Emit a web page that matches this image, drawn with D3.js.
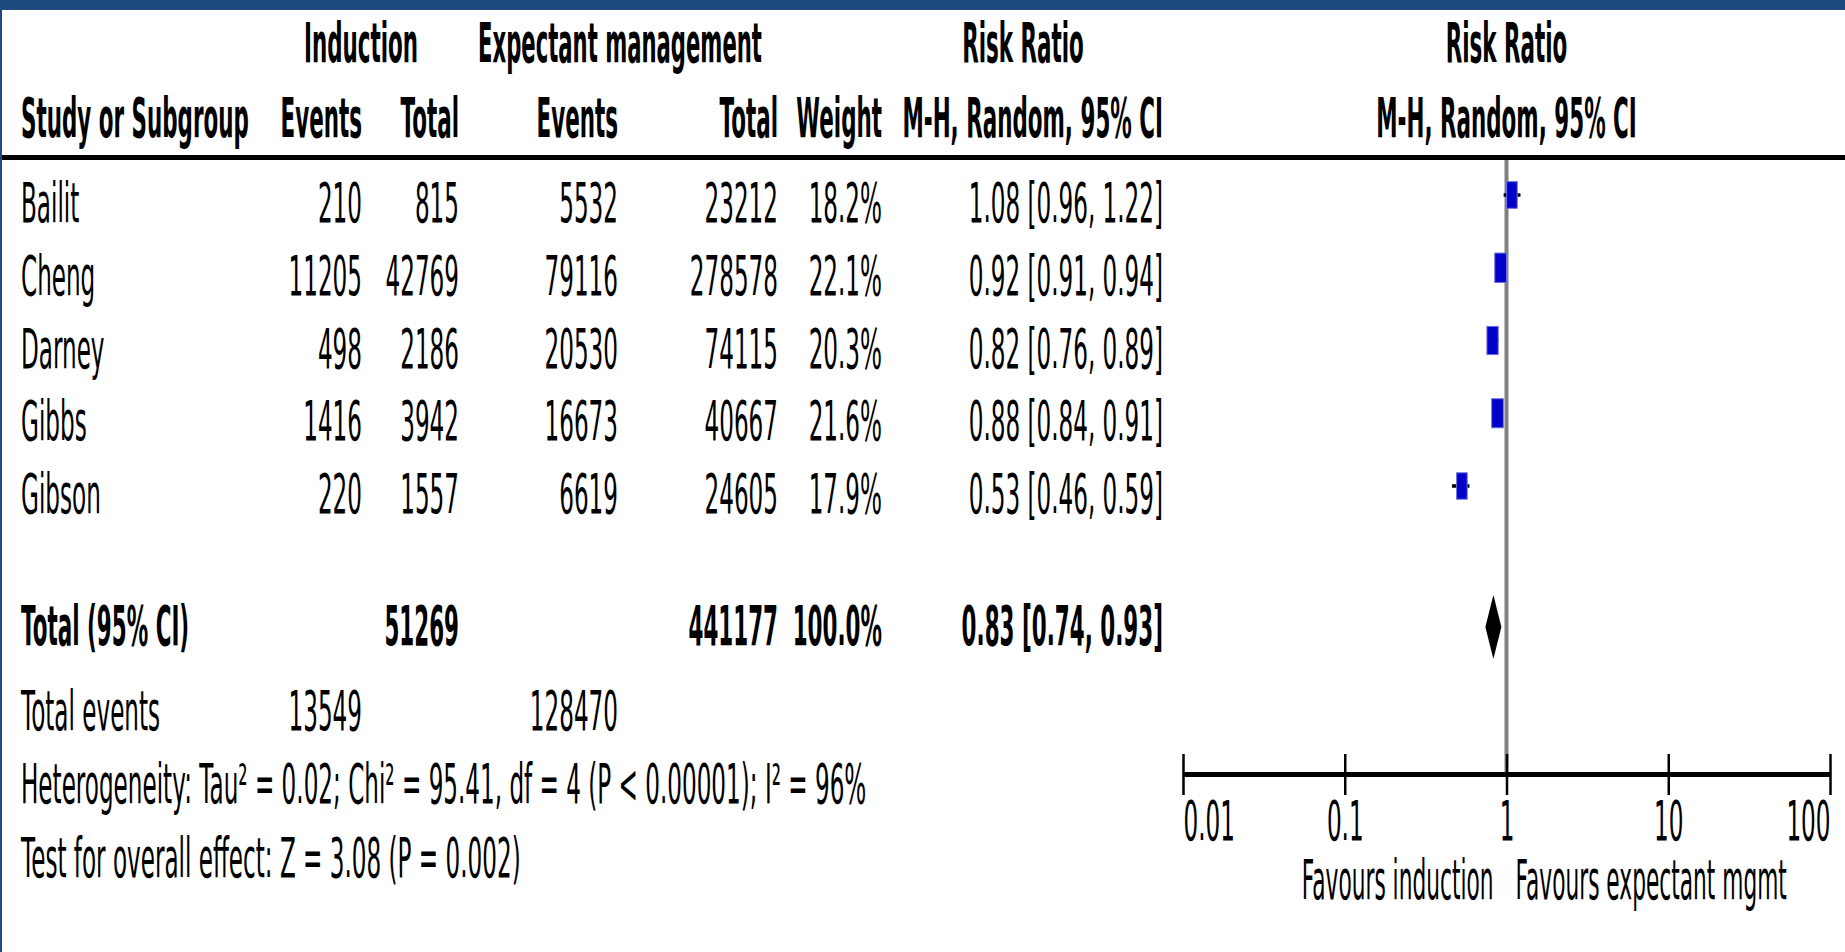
<!DOCTYPE html>
<html>
<head>
<meta charset="utf-8">
<script src="https://cdn.jsdelivr.net/npm/d3@7/dist/d3.min.js"></script>
<style>
  html, body { margin: 0; padding: 0; background: #fff; }
  svg { display: block; }
  .t { font-family: "DejaVu Sans", Verdana, sans-serif; font-size: 55px; fill: #000; }
  .b { font-weight: bold; }
</style>
</head>
<body>
<div id="chart"></div>
<script>
const studies = ["Bailit", "Cheng", "Darney", "Gibbs", "Gibson"];
const indEvents = [210, 11205, 498, 1416, 220];
const indTotal = [815, 42769, 2186, 3942, 1557];
const expEvents = [5532, 79116, 20530, 16673, 6619];
const expTotal = [23212, 278578, 74115, 40667, 24605];
const weights = [18.2, 22.1, 20.3, 21.6, 17.9];
const rr = [1.08, 0.92, 0.82, 0.88, 0.53];
const rrLo = [0.96, 0.91, 0.76, 0.84, 0.46];
const rrHi = [1.22, 0.94, 0.89, 0.91, 0.59];

const pooled = { rr: 0.83, lo: 0.74, hi: 0.93, weight: "100.0%" };
const tickValues = [0.01, 0.1, 1, 10, 100];
const tickLabels = ["0.01", "0.1", "1", "10", "100"];
const favoursLeft = "Favours induction";
const favoursRight = "Favours expectant mgmt";
const heterogeneity = "Heterogeneity: Tau\u00B2 = 0.02; Chi\u00B2 = 95.41, df = 4 (P < 0.00001); I\u00B2 = 96%";
const overallEffect = "Test for overall effect: Z = 3.08 (P = 0.002)";

const W = 1845, H = 952;
// horizontal squeeze of the text (the source is very condensed)
const SX = 0.42;
const SX_BOLD = 0.39;

const svg = d3.select("#chart").append("svg")
  .attr("width", W)
  .attr("height", H);

// frame
svg.append("rect").attr("x", 0).attr("y", 0).attr("width", W).attr("height", 10).attr("fill", "#1f4a7e");
svg.append("rect").attr("x", 0).attr("y", 0).attr("width", 2).attr("height", H).attr("fill", "#1f4a7e");

function txt(x, y, s, anchor, bold, sx) {
  const k = sx || (bold ? SX_BOLD : SX);
  return svg.append("text")
    .attr("class", "t" + (bold ? " b" : ""))
    .attr("transform", "translate(" + x + "," + y + ") scale(" + k + ",1)")
    .attr("text-anchor", anchor || "start")
    .text(s);
}

// column right edges
const col = { name: 21, indE: 362, indT: 459, expE: 618, expT: 778, wt: 882, ci: 1163 };

const x = d3.scaleLog().domain([0.01, 100]).range([1183, 1830]);
const rowY = d3.scaleLinear().domain([0, studies.length - 1]).range([222, 513]);
const boxW = d3.scaleSqrt().domain([0, 100]).range([0, 25]);

const fmtCI = (m, l, h) => m.toFixed(2) + " [" + l.toFixed(2) + ", " + h.toFixed(2) + "]";

// headers
txt(361, 62, "Induction", "middle", true);
txt(620, 62, "Expectant management", "middle", true, 0.385);
txt(1023, 62, "Risk Ratio", "middle", true);
txt(x(1), 62, "Risk Ratio", "middle", true);

txt(col.name, 137, "Study or Subgroup", "start", true);
txt(col.indE, 137, "Events", "end", true);
txt(col.indT, 137, "Total", "end", true);
txt(col.expE, 137, "Events", "end", true);
txt(col.expT, 137, "Total", "end", true);
txt(col.wt, 137, "Weight", "end", true);
txt(col.ci, 137, "M-H, Random, 95% CI", "end", true);
txt(x(1), 137, "M-H, Random, 95% CI", "middle", true);

svg.append("line")
  .attr("x1", 2).attr("x2", W)
  .attr("y1", 157.5).attr("y2", 157.5)
  .attr("stroke", "#000").attr("stroke-width", 5);

// study rows
studies.forEach((s, i) => {
  const y = rowY(i);
  txt(col.name, y, s, "start", false);
  txt(col.indE, y, indEvents[i], "end", false);
  txt(col.indT, y, indTotal[i], "end", false);
  txt(col.expE, y, expEvents[i], "end", false);
  txt(col.expT, y, expTotal[i], "end", false);
  txt(col.wt, y, weights[i].toFixed(1) + "%", "end", false);
  txt(col.ci, y, fmtCI(rr[i], rrLo[i], rrHi[i]), "end", false);
});

// total rows
const totalY = 645;
txt(col.name, totalY, "Total (95% CI)", "start", true);
txt(col.indT, totalY, d3.sum(indTotal), "end", true);
txt(col.expT, totalY, d3.sum(expTotal), "end", true);
txt(col.wt, totalY, pooled.weight, "end", true);
txt(col.ci, totalY, fmtCI(pooled.rr, pooled.lo, pooled.hi), "end", true);

txt(col.name, 730, "Total events", "start", false);
txt(col.indE, 730, d3.sum(indEvents), "end", false);
txt(col.expE, 730, d3.sum(expEvents), "end", false);

txt(col.name, 803, heterogeneity, "start", false);
txt(col.name, 877, overallEffect, "start", false);

// plot
const axisY = 774;

svg.append("line")
  .attr("x1", x(1)).attr("x2", x(1))
  .attr("y1", 160).attr("y2", axisY)
  .attr("stroke", "#808080").attr("stroke-width", 4);

const marks = svg.append("g");
studies.forEach((s, i) => {
  const cy = rowY(i) - 27;
  marks.append("line")
    .attr("x1", x(rrLo[i])).attr("x2", x(rrHi[i]))
    .attr("y1", cy).attr("y2", cy)
    .attr("stroke", "#000").attr("stroke-width", 3.5);
  const w = boxW(weights[i]);
  const h = w * 2.5;
  marks.append("rect")
    .attr("x", x(rr[i]) - w / 2).attr("y", cy - h / 2)
    .attr("width", w).attr("height", h)
    .attr("fill", "#0000c8")
    .attr("stroke", "#7070e0").attr("stroke-width", 1);
});

const dy = 627;
marks.append("path")
  .attr("d", "M" + x(pooled.lo) + "," + dy +
             "L" + x(pooled.rr) + "," + (dy - 32) +
             "L" + x(pooled.hi) + "," + dy +
             "L" + x(pooled.rr) + "," + (dy + 32) + "Z")
  .attr("fill", "#000");

const axis = svg.append("g")
  .attr("transform", "translate(0," + axisY + ")")
  .call(d3.axisBottom(x).tickValues(tickValues).tickSize(21).tickSizeOuter(0).tickFormat((d, i) => tickLabels[i]));

axis.select(".domain").attr("stroke", "#000").attr("stroke-width", 5);
axis.selectAll(".tick line").attr("y1", -20).attr("stroke", "#000").attr("stroke-width", 2.5);
axis.selectAll(".tick text")
  .attr("class", "t")
  .attr("fill", "#000")
  .attr("y", 0).attr("dy", 0)
  .attr("transform", "translate(0,66) scale(" + SX + ",1)")
  .attr("text-anchor", (d, i) => i === 0 ? "start" : (i === tickValues.length - 1 ? "end" : "middle"));
axis.attr("font-size", null).attr("font-family", null);

txt(x(1) - 13, 899, favoursLeft, "end", false, 0.395);
txt(x(1) + 9, 899, favoursRight, "start", false, 0.395);
</script>
</body>
</html>
